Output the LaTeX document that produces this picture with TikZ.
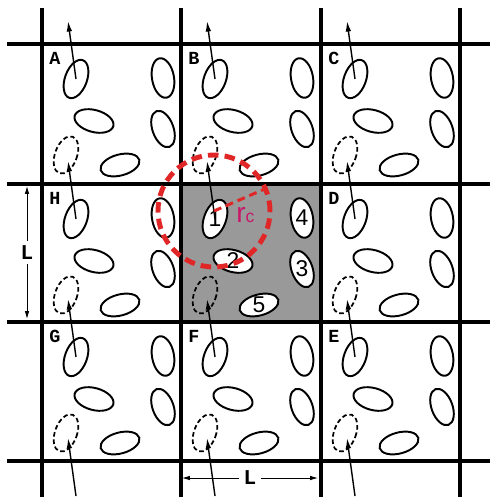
\documentclass[tikz,border=0pt]{standalone}
\usepackage{fontspec}
\setsansfont{Liberation Sans}
\newfontfamily\slabfont{Liberation Mono}
\usepackage{xcolor}
\usetikzlibrary{arrows.meta}
\definecolor{CellGray}{HTML}{999999}
\definecolor{CutRed}{HTML}{E02626}
\definecolor{RcPink}{HTML}{C8186A}

\begin{document}
\begin{tikzpicture}[x=0.02cm,y=-0.02cm,
    wall/.style={line width=2.3pt},
    particle/.style={line width=1.1pt,fill=white},
    ghost/.style={line width=1pt,dash pattern=on 2.6pt off 1.6pt},
    motion/.style={-{Latex[length=6pt,width=3.2pt]},line width=0.8pt},
    dim/.style={{Latex[length=4.5pt,width=2.6pt]}-{Latex[length=4.5pt,width=2.6pt]},
                line width=0.5pt},
    celllabel/.style={font=\slabfont\bfseries\fontsize{10.5}{10.5}\selectfont,inner sep=0pt},
    dimlabel/.style={font=\slabfont\bfseries\fontsize{12}{12}\selectfont,
                     fill=white,inner sep=2.5pt},
    num/.style={font=\sffamily\fontsize{13}{13}\selectfont,inner sep=0pt},
    cutoff/.style={CutRed,line width=2.8pt,dash pattern=on 6pt off 3.5pt},
    rclabel/.style={font=\sffamily\fontsize{16}{16}\selectfont,RcPink,inner sep=0pt}]

    \useasboundingbox (0,0) rectangle (490,497);

    \fill[CellGray] (181,184) rectangle (321,322);

    \foreach \x in {42,181,321,460}
      \draw[wall] (\x,8) -- (\x,497);
    \foreach \y in {44,184,322,461}
      \draw[wall] (7,\y) -- (490,\y);

    \foreach \X/\Y/\id in {42/44/a,181/44/b,321/44/c,42/184/h,181/184/m,
                           321/184/d,42/322/g,181/322/f,321/322/e} {
      \foreach \n/\dx/\dy/\a/\rx/\ry in {1/34/35/-20/11/20,2/52/77/-15/20/11,
                                        3/121/85/20/10.5/19,4/121/34/10/11/20,
                                        5/78/121/15/20/10.5} {
        \coordinate (p\n-\id) at (\X+\dx,\Y+\dy);
        \draw[particle] (p\n-\id)
          circle [x radius=\rx*0.02cm,y radius=\ry*0.02cm,rotate=\a];
      }
      \coordinate (img-\id) at (\X+24,\Y+111);
      \draw[ghost] (img-\id)
        circle [x radius=11*0.02cm,y radius=19.5*0.02cm,rotate=-20];
    }

    \foreach \X/\Y/\lab in {42/44/A,181/44/B,321/44/C,42/184/H,
                            321/184/D,42/322/G,181/322/F,321/322/E}
      \node[celllabel] (lab-\lab) at (\X+13,\Y+14) {\lab};

    \foreach \n in {1,...,5}
      \node[num] (num-\n) at (p\n-m) {\n};

    \foreach \X in {42,181,321}
      \foreach \Y in {44,184,322,461} {
        \coordinate (from-\X-\Y) at (\X+34,\Y+35);
        \coordinate (to-\X-\Y) at (\X+26,\Y-23);
        \draw[motion] (from-\X-\Y) -- (to-\X-\Y);
      }

    \coordinate (cut) at (214,211);
    \coordinate (rim) at (267,188);
    \draw[cutoff] (cut) circle [radius=56*0.02cm];
    \draw[cutoff,line width=1.7pt,dash pattern=on 4.5pt off 2.8pt] (cut) -- (rim);
    \node[rclabel,anchor=base west] (rc) at (236,222)
      {r{\fontsize{10}{10}\selectfont c}};

    \coordinate (vtop) at (27,186);
    \coordinate (vbot) at (27,319);
    \draw[dim] (vtop) -- node[dimlabel] (Lv) {L} (vbot);
    \coordinate (hleft) at (182,478);
    \coordinate (hright) at (318,478);
    \draw[dim] (hleft) -- node[dimlabel] (Lh) {L} (hright);
  \end{tikzpicture}
\end{document}
